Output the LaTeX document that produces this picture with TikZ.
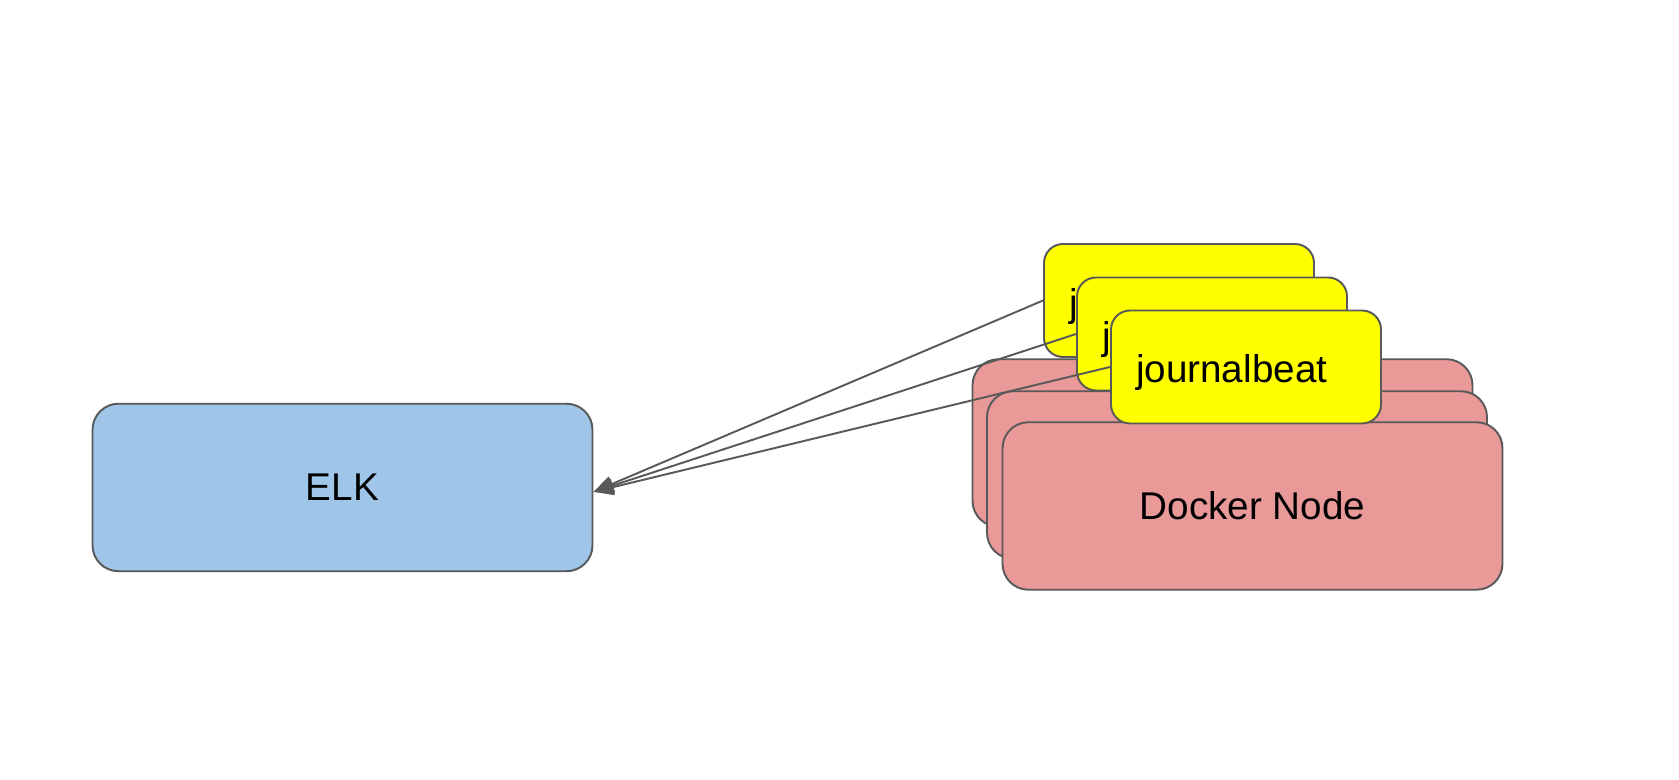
\documentclass[tikz,border=0pt]{standalone}
\usepackage{fontspec}
\setmainfont{Liberation Sans}
\usetikzlibrary{arrows.meta,positioning}
\definecolor{elkblue}{HTML}{9FC5E8}
\definecolor{dockerpink}{HTML}{EA9999}
\definecolor{beatyellow}{HTML}{FFFF00}
\definecolor{edgegray}{HTML}{595959}

\begin{document}
\begin{tikzpicture}[
  bigbox/.style={draw=edgegray, line width=1.1pt, rounded corners=0.52cm,
    minimum width=10cm, minimum height=3.35cm, font=\fontsize{22}{26}\selectfont},
  beatbox/.style={draw=edgegray, line width=1.1pt, fill=beatyellow, rounded corners=0.38cm,
    minimum height=2.26cm, text width=4.4cm, inner xsep=0.5cm, align=left,
    text height=0.8cm, text depth=0.16cm, font=\fontsize{22}{26}\selectfont},
  ship/.style={draw=edgegray, line width=1.1pt, -{Triangle[length=0.4cm,width=0.32cm]}}
]
\useasboundingbox (0,0) rectangle (33.58,15.6);
% ELK
\node[bigbox, fill=elkblue] (elk) at (6.85,5.85) {ELK};
% docker nodes
\node[bigbox, fill=dockerpink] (dock3) at (24.45,6.74) {};
\node[bigbox, fill=dockerpink] (dock2) at (24.74,6.10) {};
\node[bigbox, fill=dockerpink] (dock1) at (25.05,5.48) {Docker Node};
% journalbeat
\node[beatbox] (beat3) at (23.58,9.59) {journalbeat};
\node[beatbox] (beat2) at (24.24,8.92) {journalbeat};
\node[beatbox] (beat1) at (24.92,8.26) {journalbeat};
% shipping
\draw[ship] (beat3.west) -- (elk.-1);
\draw[ship] (beat2.west) -- (elk.-1);
\draw[ship] (beat1.west) -- (elk.-1);
\end{tikzpicture}
\end{document}
